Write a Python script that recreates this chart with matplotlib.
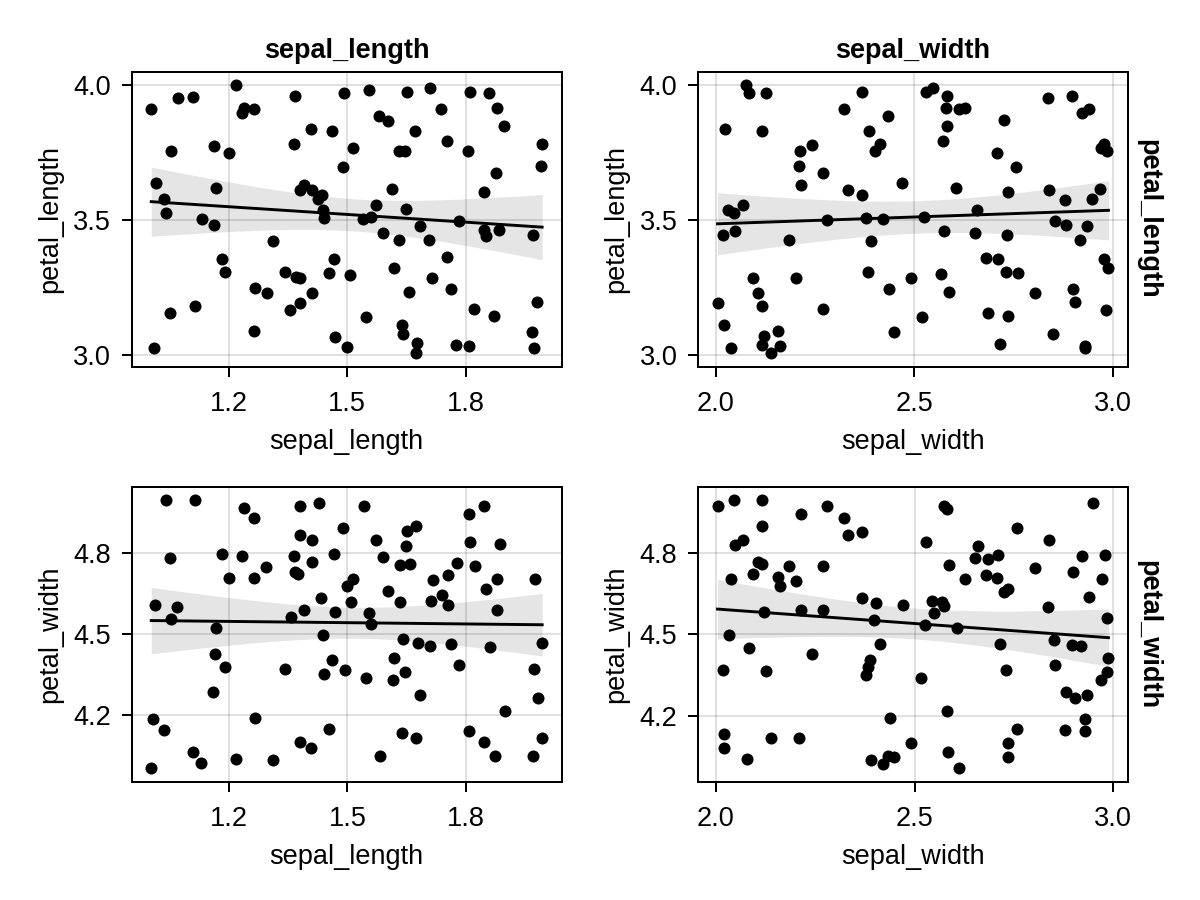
import numpy as np
import matplotlib
matplotlib.use("Agg")
import matplotlib.pyplot as plt

# ---------------- data ----------------
col_names = ["sepal_length", "sepal_width"]
row_names = ["petal_length", "petal_width"]
xticks_by_col = [[1.2, 1.5, 1.8], [2.0, 2.5, 3.0]]
yticks_by_row = [[3.0, 3.5, 4.0], [4.2, 4.5, 4.8]]

# top-left: sepal_length vs petal_length
tl_x = [1.003, 1.070, 1.110, 1.218, 1.238, 1.234, 1.263, 1.368, 1.492, 1.407,
        1.462, 1.052, 1.163, 1.201, 1.365, 1.515, 1.489, 1.014, 1.035, 1.041,
        1.168, 1.131, 1.161, 1.390, 1.379, 1.410, 1.435, 1.427, 1.438, 1.440,
        1.312, 1.182, 1.190, 1.467, 1.343, 1.370, 1.381, 1.454, 1.507, 1.267,
        1.296, 1.410, 1.381, 1.356, 1.051, 1.115, 1.263, 1.469, 1.498, 1.009,
        1.554, 1.651, 1.710, 1.810, 1.860, 1.879, 1.897, 1.738, 1.581, 1.602,
        1.672, 1.753, 1.632, 1.646, 1.806, 1.994, 1.991, 1.878, 1.614, 1.846,
        1.572, 1.648, 1.541, 1.559, 1.684, 1.783, 1.590, 1.632, 1.708, 1.846,
        1.851, 1.885, 1.971, 1.753, 1.619, 1.716, 1.657, 1.762, 1.548, 1.639,
        1.642, 1.822, 1.872, 1.982, 1.969, 1.974, 1.677, 1.674, 1.776, 1.808]
tl_y = [3.910, 3.953, 3.957, 4.000, 3.916, 3.895, 3.910, 3.958, 3.969, 3.837,
        3.831, 3.757, 3.775, 3.748, 3.782, 3.765, 3.695, 3.637, 3.576, 3.526,
        3.617, 3.502, 3.480, 3.631, 3.612, 3.610, 3.594, 3.578, 3.535, 3.508,
        3.421, 3.354, 3.308, 3.354, 3.307, 3.287, 3.283, 3.302, 3.297, 3.246,
        3.228, 3.227, 3.190, 3.166, 3.154, 3.180, 3.089, 3.067, 3.030, 3.024,
        3.983, 3.973, 3.990, 3.974, 3.969, 3.916, 3.850, 3.910, 3.887, 3.868,
        3.830, 3.793, 3.754, 3.754, 3.754, 3.783, 3.700, 3.674, 3.615, 3.604,
        3.557, 3.541, 3.502, 3.512, 3.477, 3.495, 3.452, 3.424, 3.427, 3.461,
        3.442, 3.461, 3.445, 3.361, 3.323, 3.283, 3.232, 3.243, 3.138, 3.111,
        3.076, 3.170, 3.144, 3.194, 3.084, 3.024, 3.043, 3.005, 3.035, 3.031]

# top-right: sepal_width vs petal_length
tr_x = [2.076, 2.082, 2.127, 2.022, 2.115, 2.367, 2.323, 2.434, 2.386, 2.414,
        2.400, 2.242, 2.213, 2.208, 2.269, 2.215, 2.333, 2.367, 2.470, 2.069,
        2.031, 2.046, 2.017, 2.049, 2.280, 2.378, 2.422, 2.184, 2.391, 2.382,
        2.094, 2.201, 2.492, 2.437, 2.106, 2.117, 2.004, 2.269, 2.020, 2.156,
        2.120, 2.117, 2.162, 2.139, 2.039, 2.448,
        2.528, 2.546, 2.583, 2.580, 2.612, 2.627, 2.583, 2.572, 2.726, 2.836,
        2.898, 2.922, 2.940, 2.707, 2.757, 2.979, 2.971, 2.986, 2.606, 2.736,
        2.838, 2.879, 2.948, 2.967, 2.525, 2.659, 2.574, 2.653, 2.733, 2.854,
        2.882, 2.935, 2.917, 2.680, 2.710, 2.730, 2.760, 2.566, 2.586, 2.804,
        2.899, 2.905, 2.977, 2.989, 2.983, 2.518, 2.685, 2.737, 2.850, 2.716,
        2.930, 2.930]
tr_y = [4.000, 3.969, 3.969, 3.837, 3.830, 3.973, 3.910, 3.885, 3.831, 3.782,
        3.754, 3.776, 3.754, 3.700, 3.674, 3.631, 3.612, 3.594, 3.637, 3.556,
        3.535, 3.526, 3.445, 3.460, 3.501, 3.508, 3.502, 3.424, 3.420, 3.308,
        3.284, 3.284, 3.284, 3.245, 3.227, 3.180, 3.190, 3.170, 3.110, 3.089,
        3.068, 3.035, 3.031, 3.005, 3.024, 3.084,
        3.975, 3.988, 3.958, 3.914, 3.910, 3.916, 3.850, 3.793, 3.870, 3.953,
        3.958, 3.895, 3.910, 3.748, 3.695, 3.782, 3.765, 3.754, 3.618, 3.604,
        3.610, 3.575, 3.578, 3.616, 3.512, 3.538, 3.460, 3.452, 3.443, 3.495,
        3.480, 3.477, 3.427, 3.360, 3.354, 3.307, 3.302, 3.298, 3.232, 3.228,
        3.243, 3.194, 3.355, 3.323, 3.166, 3.138, 3.154, 3.144, 3.076, 3.041,
        3.033, 3.023]

# bottom-left: sepal_length vs petal_width
bl_x = [1.041, 1.115, 1.238, 1.263, 1.381, 1.427, 1.489, 1.381, 1.410, 1.051,
        1.182, 1.234, 1.294, 1.201, 1.263, 1.365, 1.410, 1.467, 1.368, 1.375,
        1.515, 1.500, 1.434, 1.510, 1.014, 1.070, 1.053, 1.168, 1.357, 1.391,
        1.469, 1.439, 1.164, 1.190, 1.343, 1.462, 1.440, 1.493, 1.161, 1.009,
        1.035, 1.267, 1.454, 1.379, 1.408, 1.110, 1.130, 1.218, 1.312, 1.004,
        1.541, 1.806, 1.845, 1.672, 1.651, 1.572, 1.647, 1.810, 1.885, 1.590,
        1.632, 1.657, 1.777, 1.822, 1.753, 1.716, 1.879, 1.974, 1.851, 1.602,
        1.632, 1.710, 1.739, 1.753, 1.878, 1.555, 1.559, 1.641, 1.677, 1.708,
        1.762, 1.860, 1.992, 1.618, 1.783, 1.548, 1.614, 1.645, 1.971, 1.684,
        1.981, 1.898, 1.639, 1.674, 1.808, 1.846, 1.991, 1.581, 1.872, 1.968]
bl_y = [4.995, 4.995, 4.964, 4.930, 4.974, 4.984, 4.893, 4.866, 4.848, 4.780,
        4.796, 4.788, 4.746, 4.709, 4.709, 4.790, 4.767, 4.795, 4.730, 4.721,
        4.703, 4.678, 4.633, 4.617, 4.607, 4.601, 4.554, 4.521, 4.563, 4.589,
        4.583, 4.498, 4.425, 4.377, 4.372, 4.403, 4.351, 4.366, 4.287, 4.187,
        4.147, 4.190, 4.151, 4.100, 4.079, 4.066, 4.022, 4.038, 4.036, 4.004,
        4.972, 4.943, 4.973, 4.900, 4.880, 4.848, 4.825, 4.841, 4.831, 4.783,
        4.756, 4.758, 4.761, 4.751, 4.719, 4.699, 4.704, 4.704, 4.666, 4.658,
        4.617, 4.624, 4.643, 4.607, 4.589, 4.578, 4.536, 4.480, 4.466, 4.456,
        4.462, 4.451, 4.466, 4.413, 4.385, 4.339, 4.332, 4.359, 4.370, 4.274,
        4.264, 4.215, 4.133, 4.116, 4.141, 4.100, 4.117, 4.051, 4.048, 4.048]

# bottom-right: sepal_width vs petal_width
br_x = [2.004, 2.045, 2.117, 2.214, 2.280, 2.323, 2.333, 2.367, 2.115, 2.048,
        2.069, 2.106, 2.117, 2.184, 2.269, 2.039, 2.094, 2.157, 2.162, 2.201,
        2.367, 2.403, 2.470, 2.120, 2.215, 2.269, 2.398, 2.033, 2.082, 2.243,
        2.414, 2.017, 2.127, 2.387, 2.382, 2.378, 2.437, 2.021, 2.021, 2.139,
        2.208, 2.077, 2.391, 2.421, 2.434, 2.449, 2.492,
        2.574, 2.581, 2.948, 2.757, 2.528, 2.838, 2.659, 2.653, 2.684, 2.711,
        2.586, 2.804, 2.922, 2.979, 2.898, 2.972, 2.626, 2.679, 2.708, 2.726,
        2.735, 2.939, 2.544, 2.568, 2.574, 2.549, 2.836, 2.985, 2.525, 2.606,
        2.715, 2.850, 2.897, 2.918, 2.988, 2.854, 2.731, 2.984, 2.968, 2.517,
        2.881, 2.905, 2.935, 2.582, 2.930, 2.930, 2.878, 2.759, 2.735, 2.736,
        2.583, 2.611]
br_y = [4.974, 4.995, 4.996, 4.944, 4.973, 4.931, 4.866, 4.880, 4.900, 4.830,
        4.848, 4.768, 4.761, 4.754, 4.751, 4.703, 4.722, 4.711, 4.677, 4.698,
        4.635, 4.617, 4.609, 4.583, 4.590, 4.590, 4.554, 4.498, 4.451, 4.426,
        4.466, 4.370, 4.366, 4.404, 4.378, 4.351, 4.190, 4.133, 4.079, 4.116,
        4.116, 4.038, 4.035, 4.022, 4.052, 4.047, 4.099,
        4.974, 4.964, 4.984, 4.893, 4.841, 4.848, 4.825, 4.783, 4.780, 4.795,
        4.758, 4.746, 4.789, 4.795, 4.729, 4.703, 4.704, 4.719, 4.709, 4.657,
        4.667, 4.639, 4.622, 4.620, 4.604, 4.577, 4.601, 4.561, 4.535, 4.522,
        4.466, 4.479, 4.462, 4.456, 4.414, 4.385, 4.370, 4.359, 4.332, 4.339,
        4.287, 4.264, 4.274, 4.215, 4.188, 4.141, 4.146, 4.151, 4.100, 4.048,
        4.066, 4.005]

panels = {(0, 0): (tl_x, tl_y), (0, 1): (tr_x, tr_y),
          (1, 0): (bl_x, bl_y), (1, 1): (br_x, br_y)}

# ---------------- style ----------------
plt.rcParams['font.family'] = ['Liberation Sans', 'DejaVu Sans']
FS = 19.5
LW = 1.44

fig = plt.figure(figsize=(12, 9), dpi=100)
W, H = 1200.0, 900.0
lefts = [131.7 / W, 698.0 / W]
bottoms = [1 - 366.7 / H, 1 - 781.7 / H]
aw, ah = 430.0 / W, 295.0 / H

T975 = 1.984  # t quantile for 95% band with ~98 dof

for r in range(2):
    for c in range(2):
        ax = fig.add_axes([lefts[c], bottoms[r], aw, ah])
        x = np.asarray(panels[(r, c)][0], dtype=float)
        y = np.asarray(panels[(r, c)][1], dtype=float)

        # linear fit with 95% confidence band
        n = len(x)
        X = np.column_stack([np.ones(n), x])
        beta = np.linalg.lstsq(X, y, rcond=None)[0]
        resid = y - X @ beta
        s2 = resid @ resid / (n - 2)
        XtXinv = np.linalg.inv(X.T @ X)
        xs = np.linspace(x.min(), x.max(), 200)
        Xs = np.column_stack([np.ones_like(xs), xs])
        yhat = Xs @ beta
        se = np.sqrt(s2 * np.einsum('ij,jk,ik->i', Xs, XtXinv, Xs))

        ax.fill_between(xs, yhat - T975 * se, yhat + T975 * se,
                        color='black', alpha=0.1, linewidth=0, zorder=1)
        ax.scatter(x, y, s=75, color='black', linewidths=0, zorder=2)
        ax.plot(xs, yhat, color='black', lw=2.1, zorder=3)

        ax.set_xticks(xticks_by_col[c])
        ax.set_xticklabels([f"{v:.1f}" for v in xticks_by_col[c]])
        ax.set_yticks(yticks_by_row[r])
        ax.set_yticklabels([f"{v:.1f}" for v in yticks_by_row[r]])

        ax.grid(True, color='black', alpha=0.12, lw=LW)
        ax.set_axisbelow(True)
        for sp in ax.spines.values():
            sp.set_linewidth(LW)
            sp.set_color('black')
        ax.tick_params(direction='out', length=7.2, width=LW,
                       labelsize=FS, colors='black')
        ax.tick_params(axis='x', pad=10.3)
        ax.tick_params(axis='y', pad=7.6)

        ax.set_xlabel(col_names[c], fontsize=FS, labelpad=8.4)
        ax.set_ylabel(row_names[r], fontsize=FS, labelpad=7.3)
        if r == 0:
            ax.set_title(col_names[c], fontsize=FS, fontweight='bold', pad=9.6)
        if c == 1:
            ax.text(1.048, 0.5, row_names[r], transform=ax.transAxes,
                    rotation=-90, ha='center', va='center',
                    fontsize=FS, fontweight='bold')

fig.savefig('out.png', dpi=100)
